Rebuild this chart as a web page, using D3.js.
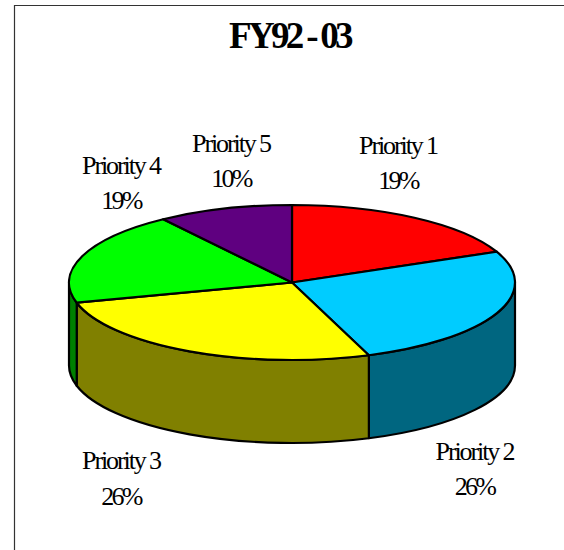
<!DOCTYPE html>
<html><head><meta charset="utf-8">
<script src="https://cdn.jsdelivr.net/npm/d3@7"></script>
<style>html,body{margin:0;padding:0;background:#fff}svg{display:block}
text{font-family:"Liberation Serif",serif;fill:#000;text-anchor:middle}</style>
</head><body><div id="c"></div>
<script>
const categories=["Priority 1","Priority 2","Priority 3","Priority 4","Priority 5"];
const values=[18.5,25.9,26.4,19.4,9.8];
const percentLabels=["19%","26%","26%","19%","10%"];
const topColors=["#ff0000","#00ccff","#ffff00","#00ff00","#5f0080"];
const sideColors=["#800000","#006680","#808000","#008000","#300040"];
const title="FY92 - 03";
const W=564,H=550,cx=292,cy=282.5,rx=223,ry=77.5,depth=83;
const svg=d3.select("#c").append("svg").attr("width",W).attr("height",H);
svg.append("path").attr("d",`M14.5 550V5.5H564`).attr("fill","none").attr("stroke","#333").attr("stroke-width",1.2);
const pie=d3.pie().sort(null).value(d=>d)(values);
const px=d3.scaleLinear().domain([-1,1]).range([cx-rx,cx+rx]);
const py=d3.scaleLinear().domain([-1,1]).range([cy+ry,cy-ry]);
const pt=(a,dy=0)=>[px(Math.sin(a)),py(Math.cos(a))+dy];
const slicePath=(s,e)=>{const a=pt(s),b=pt(e);return `M${cx} ${cy}L${a}A${rx} ${ry} 0 ${e-s>Math.PI?1:0} 1 ${b}Z`;};
const sidePath=(s,e)=>{
  const lo=Math.max(s,Math.PI/2),hi=Math.min(e,3*Math.PI/2);
  if(hi<=lo)return null;
  const a=pt(lo),b=pt(hi),c=pt(hi,depth),d=pt(lo,depth);
  return `M${a}A${rx} ${ry} 0 0 1 ${b}L${c}A${rx} ${ry} 0 0 0 ${d}Z`;};
const sides=pie.map((d,i)=>({d,i})).filter(o=>sidePath(o.d.startAngle,o.d.endAngle));
svg.append("g").selectAll("path").data(sides).join("path")
  .attr("d",o=>sidePath(o.d.startAngle,o.d.endAngle)).attr("fill",o=>sideColors[o.i])
  .attr("stroke","#000").attr("stroke-width",2.2).attr("stroke-linejoin","round");
svg.append("g").selectAll("path").data(pie).join("path")
  .attr("d",d=>slicePath(d.startAngle,d.endAngle)).attr("fill",(d,i)=>topColors[i])
  .attr("stroke","#000").attr("stroke-width",2.2).attr("stroke-linejoin","round");
svg.append("text").attr("x",289.5).attr("y",48).attr("font-size",37).attr("font-weight","bold")
  .attr("letter-spacing",-3.7).text(title);
const labelPos=[[398,154,189],[474.5,460,495],[121,469,505],[121,174,209],[231,152,187]];
categories.forEach((c,i)=>{
  const [x,y1,y2]=labelPos[i];
  svg.append("text").attr("x",x).attr("y",y1).attr("font-size",26).attr("letter-spacing",-2.1).text(c);
  svg.append("text").attr("x",x).attr("y",y2).attr("font-size",26).attr("letter-spacing",-2.8).text(percentLabels[i]);
});
</script></body></html>
